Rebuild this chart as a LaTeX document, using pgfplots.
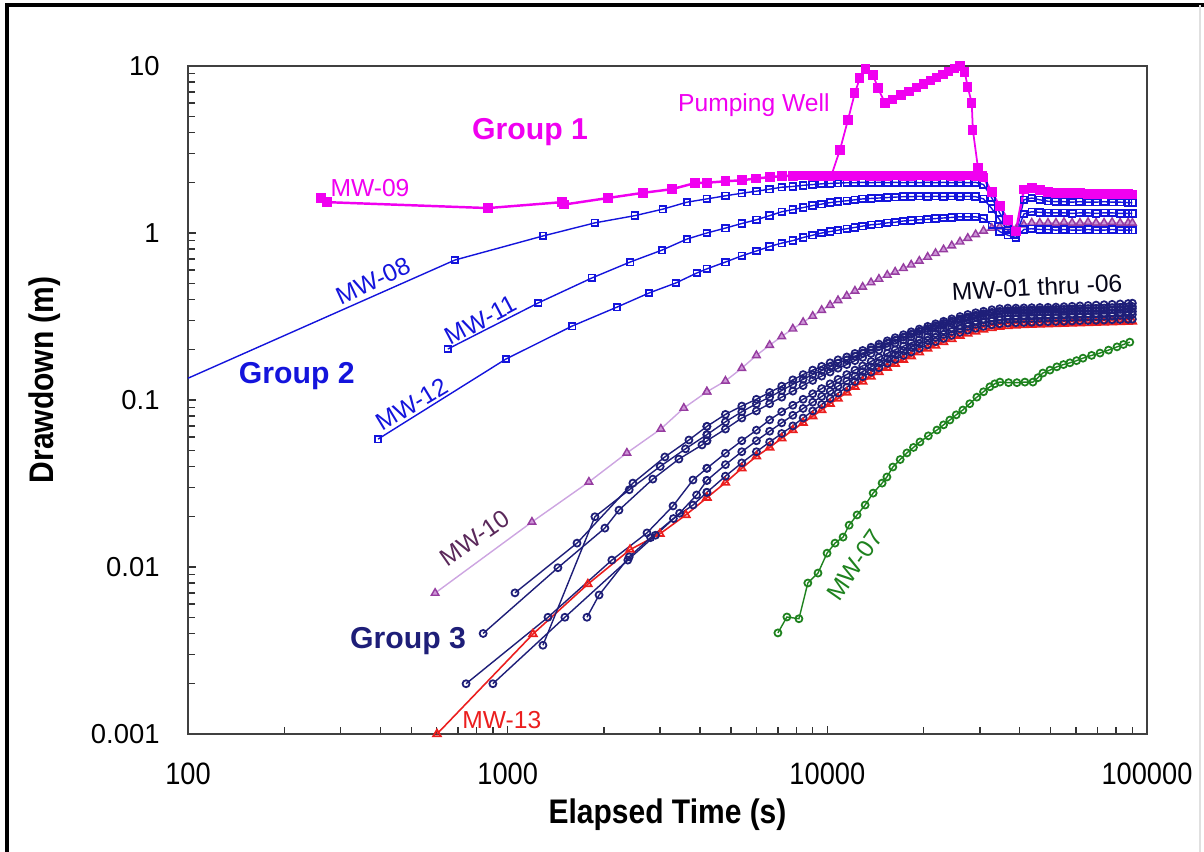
\documentclass[border=0pt]{standalone}
\usepackage{pgfplots}
\pgfplotsset{compat=1.18}
\usepackage{pgfplotstable}
\usepackage{fontspec}
\setmainfont{Liberation Sans}
\newfontfamily\condfont[FakeStretch=0.88]{Liberation Sans}

\definecolor{mag}{RGB}{240,0,240}
\definecolor{wblue}{RGB}{20,20,220}
\definecolor{navy3}{RGB}{30,30,120}
\definecolor{purp}{RGB}{150,60,160}
\definecolor{purpfill}{RGB}{205,150,215}
\definecolor{purpline}{RGB}{205,165,225}
\definecolor{purplabel}{RGB}{90,40,90}
\definecolor{wred}{RGB}{235,30,30}
\definecolor{wgreen}{RGB}{30,130,30}

% late readings (t >= 4200 s), one column per well
\pgfplotstableread{
t w09 w08 w11 w12 w10 w13 s1 s2 s3 s4 s5 s6
4200 2.00 1.60 1.00 0.61 0.112 0.026 0.0695 0.057 0.039 0.033 0.062 0.028
4800 2.04 1.67 1.07 0.67 0.130 0.032 0.082 0.067 0.048 0.041 0.074 0.035
5400 2.07 1.73 1.14 0.73 0.155 0.039 0.092 0.078 0.057 0.049 0.085 0.042
6000 2.12 1.78 1.20 0.78 0.185 0.046 0.101 0.086 0.066 0.057 0.095 0.049
6600 2.16 1.83 1.27 0.83 0.213 0.052 0.111 0.095 0.076 0.065 0.104 0.056
7200 2.19 1.88 1.34 0.87 0.240 0.059 0.121 0.104 0.085 0.073 0.114 0.063
7800 2.20 1.90 1.38 0.90 0.267 0.066 0.132 0.113 0.093 0.081 0.124 0.070
8400 2.21 1.93 1.42 0.94 0.292 0.073 0.142 0.122 0.101 0.089 0.133 0.078
9000 2.20 1.95 1.46 0.97 0.318 0.080 0.151 0.131 0.109 0.097 0.142 0.086
9600 2.19 1.97 1.49 1.00 0.345 0.087 0.159 0.139 0.117 0.105 0.150 0.094
10200 2.20 1.98 1.52 1.02 0.370 0.095 0.167 0.147 0.125 0.113 0.158 0.102
10800 2.21 1.99 1.54 1.04 0.395 0.102 0.174 0.155 0.133 0.121 0.166 0.110
11500 2.20 2.00 1.56 1.06 0.420 0.111 0.181 0.163 0.142 0.130 0.174 0.119
12200 2.20 2.00 1.58 1.08 0.450 0.120 0.190 0.172 0.151 0.139 0.183 0.129
12900 2.21 2.01 1.60 1.10 0.475 0.129 0.198 0.180 0.160 0.148 0.191 0.138
13700 2.20 2.00 1.61 1.12 0.505 0.138 0.207 0.190 0.170 0.158 0.200 0.147
14500 2.19 2.01 1.62 1.13 0.530 0.147 0.216 0.199 0.180 0.167 0.209 0.156
15400 2.20 2.00 1.63 1.15 0.560 0.156 0.226 0.209 0.190 0.177 0.219 0.166
16300 2.21 2.01 1.64 1.16 0.585 0.165 0.236 0.219 0.200 0.187 0.228 0.175
17300 2.20 2.00 1.65 1.18 0.615 0.174 0.246 0.229 0.210 0.197 0.238 0.185
18300 2.20 2.01 1.65 1.19 0.645 0.183 0.256 0.239 0.220 0.207 0.248 0.194
19400 2.21 2.00 1.66 1.20 0.680 0.193 0.266 0.249 0.230 0.217 0.258 0.204
20600 2.20 2.01 1.65 1.21 0.718 0.203 0.276 0.259 0.240 0.227 0.268 0.214
21800 2.20 2.00 1.66 1.22 0.756 0.212 0.286 0.269 0.250 0.237 0.278 0.224
23100 2.21 2.01 1.65 1.23 0.796 0.222 0.296 0.279 0.260 0.247 0.288 0.234
24500 2.20 2.00 1.66 1.24 0.840 0.232 0.306 0.289 0.270 0.257 0.297 0.244
26000 2.20 2.01 1.65 1.25 0.886 0.242 0.316 0.298 0.280 0.267 0.306 0.254
27500 2.21 2.00 1.66 1.25 0.932 0.250 0.325 0.306 0.289 0.276 0.314 0.262
29100 2.20 2.01 1.65 1.25 0.980 0.257 0.333 0.314 0.297 0.284 0.322 0.269
30800 2.15 1.95 1.60 1.22 1.030 0.264 0.340 0.321 0.305 0.291 0.329 0.276
32700 1.75 1.62 1.40 1.12 1.070 0.270 0.347 0.327 0.311 0.297 0.335 0.282
34600 1.45 1.32 1.20 1.02 1.090 0.274 0.352 0.331 0.316 0.302 0.340 0.286
36700 1.20 1.10 1.04 0.97 1.080 0.277 0.355 0.333 0.319 0.305 0.343 0.289
38900 1.02 0.98 0.97 0.94 1.050 0.279 0.355 0.334 0.320 0.306 0.344 0.290
41200 1.82 1.58 1.30 1.05 1.120 0.281 0.356 0.335 0.321 0.307 0.345 0.291
43600 1.86 1.62 1.34 1.06 1.150 0.282 0.357 0.336 0.322 0.308 0.346 0.292
46200 1.80 1.58 1.33 1.05 1.150 0.283 0.358 0.337 0.323 0.309 0.347 0.293
49000 1.76 1.55 1.32 1.05 1.150 0.284 0.359 0.338 0.324 0.310 0.348 0.294
51900 1.74 1.54 1.32 1.04 1.150 0.285 0.360 0.339 0.325 0.311 0.349 0.295
55000 1.74 1.54 1.32 1.05 1.160 0.286 0.362 0.340 0.326 0.312 0.350 0.296
58300 1.73 1.53 1.31 1.04 1.150 0.287 0.364 0.341 0.327 0.313 0.351 0.297
61700 1.73 1.54 1.32 1.04 1.150 0.288 0.366 0.342 0.328 0.314 0.352 0.298
65400 1.72 1.53 1.32 1.05 1.160 0.289 0.368 0.343 0.329 0.315 0.353 0.299
69300 1.72 1.53 1.31 1.04 1.150 0.290 0.370 0.344 0.330 0.316 0.354 0.300
73400 1.72 1.54 1.32 1.04 1.150 0.291 0.372 0.345 0.331 0.317 0.355 0.301
77800 1.71 1.53 1.32 1.05 1.160 0.292 0.374 0.347 0.333 0.319 0.357 0.302
82400 1.71 1.53 1.31 1.04 1.150 0.293 0.376 0.349 0.335 0.321 0.359 0.303
87300 1.71 1.52 1.31 1.04 1.150 0.294 0.378 0.351 0.337 0.323 0.361 0.304
90000 1.70 1.52 1.31 1.04 1.150 0.295 0.380 0.353 0.339 0.325 0.363 0.305
}\late

\pgfplotsset{
  g1/.style={mag, line width=0.5pt, mark=square*, mark size=1.05pt, mark options={solid}},
  g2/.style={wblue, line width=0.4pt, mark=square, mark size=0.95pt, mark options={line width=0.5pt}},
  g3/.style={navy3, line width=0.4pt, mark=o, mark size=1.0pt, mark options={line width=0.5pt}},
  g10/.style={purpline, line width=0.4pt, mark=triangle*, mark size=1.25pt, mark options={draw=purp, fill=purpfill, line width=0.4pt}},
  g13/.style={wred, line width=0.45pt, mark=triangle, mark size=1.25pt, mark options={line width=0.5pt}},
  g7/.style={wgreen, line width=0.4pt, mark=o, mark size=1.0pt, mark options={line width=0.5pt}},
}
\tikzset{
  lbl/.style={font=\fontsize{7}{8}\selectfont, inner sep=0pt},
  grp/.style={font=\bfseries\fontsize{8.6}{10}\selectfont, inner sep=0pt},
}

\begin{document}
\begin{tikzpicture}
\path[use as bounding box] (0,0) rectangle (12.04,8.52);
\begin{axis}[
  at={(1.88cm,1.18cm)}, anchor=south west,
  scale only axis, width=9.59cm, height=6.68cm,
  xmode=log, ymode=log,
  xmin=100, xmax=100000, ymin=0.001, ymax=10,
  xtick={100,1000,10000,100000}, xticklabels={100,1000,10000,100000},
  ytick={0.001,0.01,0.1,1,10}, yticklabels={0.001,0.01,0.1,1,10},
  minor xtick={200,300,400,500,600,700,800,900,2000,3000,4000,5000,6000,7000,8000,9000,20000,30000,40000,50000,60000,70000,80000,90000},
  minor ytick={0.002,0.003,0.004,0.005,0.006,0.007,0.008,0.009,0.02,0.03,0.04,0.05,0.06,0.07,0.08,0.09,0.2,0.3,0.4,0.5,0.6,0.7,0.8,0.9,2,3,4,5,6,7,8,9},
  xtick pos=left, ytick pos=left, tick align=inside,
  major tick length=0.8mm, minor tick length=0.7mm,
  every tick/.style={black!80, line width=0.4pt},
  axis line style={draw=black!75, line width=0.7pt},
  yticklabel style={font=\fontsize{7.8}{9}\selectfont, xshift=-1.6mm},
  xticklabel style={font=\condfont\fontsize{8.8}{10}\selectfont, yshift=-1.6mm},
  xlabel={Elapsed Time (s)},
  ylabel={Drawdown (m)},
  xlabel style={font=\condfont\bfseries\fontsize{9.7}{11}\selectfont, at={(axis description cs:0.5,-0.121)}, anchor=center},
  ylabel style={font=\condfont\bfseries\fontsize{9.7}{11}\selectfont, at={(axis description cs:-0.149,0.53)}, anchor=center},
  clip=false,
]
% Group 3: MW-13 (red) and MW-01 .. MW-06 (navy)
\addplot[g13] coordinates {(601,0.001)(1200,0.00397)(1782,0.0079)(2414,0.0127)(2995,0.0158)(3610,0.0205)(4200,0.026)};
\addplot[g13] table[x=t,y=w13]{\late};
\addplot[g3] coordinates {(1054,0.007)(1648,0.0139)(2465,0.0318)(3103,0.0456)(3690,0.0576)(4200,0.0695)};
\addplot[g3] table[x=t,y=s1]{\late};
\addplot[g3] coordinates {(838,0.004)(1436,0.0099)(2014,0.0171)(2229,0.0219)(2845,0.0336)(3433,0.0443)(4053,0.0538)(4200,0.057)};
\addplot[g3] table[x=t,y=s2]{\late};
\addplot[g3] coordinates {(741,0.002)(1337,0.005)(2118,0.011)(2728,0.016)(3290,0.0232)(3800,0.0332)(4200,0.039)};
\addplot[g3] table[x=t,y=s3]{\late};
\addplot[g3] coordinates {(899,0.002)(1510,0.005)(2376,0.011)(2900,0.0155)(3450,0.021)(3900,0.027)(4200,0.033)};
\addplot[g3] table[x=t,y=s4]{\late};
\addplot[g3] coordinates {(1289,0.0034)(1875,0.020)(2400,0.029)(3000,0.040)(3600,0.051)(4200,0.062)};
\addplot[g3] table[x=t,y=s5]{\late};
\addplot[g3] coordinates {(1770,0.005)(1932,0.0068)(2400,0.0115)(2800,0.015)(3300,0.0195)(3800,0.0235)(4200,0.028)};
\addplot[g3] table[x=t,y=s6]{\late};
% MW-07
\addplot[g7] coordinates {(7005,0.00403)(7474,0.00502)(8150,0.00490)(8690,0.00802)(9350,0.0092)(9980,0.0121)(10570,0.0139)(11200,0.0151)(11700,0.0178)(12390,0.0205)(13130,0.0235)(13910,0.0277)(14840,0.0318)(15360,0.0346)(16030,0.0397)(16900,0.0440)(17740,0.0482)(18600,0.0520)(19490,0.0561)(20700,0.0610)(22030,0.0661)(23100,0.0710)(24170,0.0759)(25300,0.0815)(26540,0.0871)(27900,0.0950)(29360,0.104)(30800,0.112)(32250,0.120)(33400,0.125)(34670,0.128)(36900,0.127)(39180,0.127)(41500,0.128)(43970,0.128)(45600,0.136)(47230,0.145)(49700,0.151)(52240,0.158)(54800,0.163)(57390,0.167)(60200,0.172)(63050,0.178)(67100,0.185)(71290,0.191)(75800,0.199)(80570,0.208)(84400,0.215)(88360,0.222)};
% MW-10
\addplot[g10] coordinates {(593,0.00698)(1191,0.0186)(1795,0.0323)(2360,0.0482)(3015,0.0671)(3557,0.0895)(4200,0.112)};
\addplot[g10] table[x=t,y=w10]{\late};
% Group 2
\addplot[wblue, line width=0.4pt, no marks] coordinates {(100,0.135)(684,0.689)};
\addplot[g2] coordinates {(684,0.689)(1290,0.96)(1875,1.15)(2500,1.27)(3060,1.39)(3640,1.53)(4200,1.60)};
\addplot[g2] table[x=t,y=w08]{\late};
\addplot[g2] coordinates {(650,0.202)(1245,0.381)(1835,0.538)(2415,0.670)(3040,0.79)(3640,0.92)(4200,1.00)};
\addplot[g2] table[x=t,y=w11]{\late};
\addplot[g2] coordinates {(393,0.0583)(988,0.176)(1590,0.277)(2198,0.360)(2767,0.437)(3358,0.502)(3907,0.576)(4200,0.61)};
\addplot[g2] table[x=t,y=w12]{\late};
% Group 1: MW-09 and pumping well
\addplot[g1, line width=0.7pt] coordinates {(261,1.62)(272,1.53)(867,1.41)(1479,1.53)(1500,1.48)(2060,1.62)(2650,1.74)(3265,1.83)(3853,1.99)(4200,2.00)};
\addplot[g1, line width=0.7pt] table[x=t,y=w09]{\late};
\addplot[g1] coordinates {(9600,2.2)(10300,2.22)(10950,3.14)(11600,4.75)(12190,6.89)(12640,8.47)(13200,9.6)(13900,8.83)(14400,7.38)(15150,6.0)(16000,6.3)(17000,6.7)(18000,7.06)(19000,7.43)(20000,7.8)(21000,8.17)(22000,8.54)(23000,8.9)(24000,9.27)(25000,9.63)(26000,10.0)(26900,9.2)(27500,7.48)(28300,6.0)(28530,4.14)(29600,2.45)(30650,2.2)};

% labels
\node[grp, text=mag] at (axis cs:1175,4.03) {Group 1};
\node[lbl, text=mag] at (axis cs:5890,5.84) {Pumping Well};
\node[lbl, text=mag] at (axis cs:371,1.86) {MW-09};
\node[lbl, text=wblue, rotate=25] at (axis cs:379,0.516) {MW-08};
\node[lbl, text=wblue, rotate=28] at (axis cs:825,0.301) {MW-11};
\node[lbl, text=wblue, rotate=31] at (axis cs:502,0.0947) {MW-12};
\node[grp, text=wblue] at (axis cs:219,0.139) {Group 2};
\node[lbl, text=purplabel, rotate=35] at (axis cs:790,0.0149) {MW-10};
\node[grp, text=navy3] at (axis cs:488,0.0036) {Group 3};
\node[lbl, text=wred] at (axis cs:959,0.00121) {MW-13};
\node[lbl, text=black!80!navy3, rotate=3] at (axis cs:45300,0.475) {MW-01 thru -06};
\node[lbl, text=wgreen, rotate=55] at (axis cs:12190,0.0103) {MW-07};
\end{axis}
\draw[black, line width=1pt] (0.07,0) -- (0.07,8.47) -- (12.04,8.47);
\draw[black!12, line width=0.5pt] (12.0,8.47) -- (12.0,0);
\end{tikzpicture}
\end{document}
